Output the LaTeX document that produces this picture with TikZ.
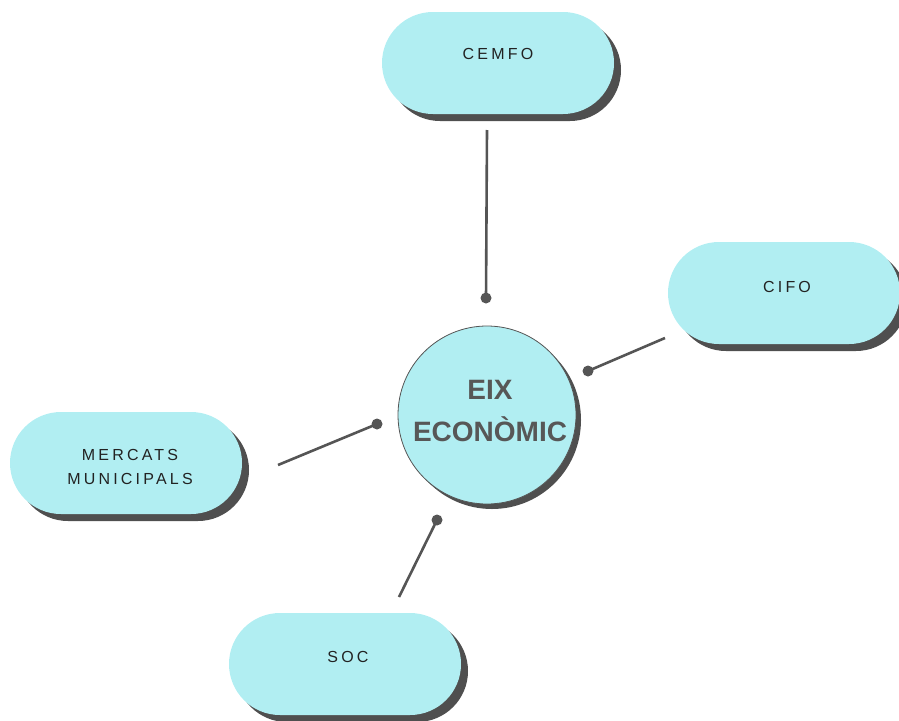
\documentclass[tikz,border=0pt]{standalone}
\usepackage{fontspec}
\setmainfont{Liberation Sans}
\newfontfamily\pillfont[LetterSpace=20]{Liberation Sans}
\usetikzlibrary{shadows}
\definecolor{cyanfill}{HTML}{B1EEF2}
\definecolor{shadowgray}{HTML}{4F4F4F}
\definecolor{linegray}{HTML}{555555}
\definecolor{txtdark}{HTML}{222222}
\definecolor{circtxt}{HTML}{575757}
\tikzset{
  pill/.style={rectangle, rounded corners=51pt, minimum width=232pt, minimum height=102pt,
    fill=cyanfill, inner sep=0pt,
    drop shadow={shadow xshift=7pt, shadow yshift=-7pt, fill=shadowgray, opacity=1}},
  pilltext/.style={font=\pillfont\fontsize{16}{24}\selectfont, text=txtdark, align=center, inner sep=0pt},
  hub/.style={circle, minimum size=178pt, fill=cyanfill, draw=linegray, line width=0.8pt, inner sep=0pt,
    drop shadow={shadow xshift=5pt, shadow yshift=-5pt, fill=shadowgray, opacity=1}},
  hubtext/.style={font=\bfseries\fontsize{28}{42}\selectfont, text=circtxt, align=center, inner sep=0pt},
  conn/.style={draw=linegray, line width=2.6pt},
  dot/.style={circle, fill=linegray, minimum size=11pt, inner sep=0pt},
}
\begin{document}
\begin{tikzpicture}[x=1pt,y=-1pt]
\useasboundingbox (0,0) rectangle (899,720);
% pills
\node[pill] (cemfo) at (498,63) {};
\node[pilltext] (cemfot) at (498,54) {CEMFO};
\node[pill] (cifo) at (784,293) {};
\node[pilltext] (cifot) at (787,287) {CIFO};
\node[pill] (merc) at (126,463) {};
\node[pilltext] (merct) at (130,467) {MERCATS\\MUNICIPALS};
\node[pill] (soc) at (345,664) {};
\node[pilltext] (soct) at (348,657) {SOC};
% hub
\node[hub] (hub) at (487,415) {};
\node[hubtext] (hubt) at (490,411) {EIX\\ECONÒMIC};
% connector ends
\coordinate (c1a) at (487,130);
\node[dot] (d1) at (486,298) {};
\coordinate (c2a) at (665,338);
\node[dot] (d2) at (588,371) {};
\coordinate (c3a) at (278,465);
\node[dot] (d3) at (377,424) {};
\coordinate (c4a) at (399,597);
\node[dot] (d4) at (437,520) {};
\draw[conn] (c1a) -- (d1.center);
\draw[conn] (c2a) -- (d2.center);
\draw[conn] (c3a) -- (d3.center);
\draw[conn] (c4a) -- (d4.center);
\end{tikzpicture}
\end{document}
